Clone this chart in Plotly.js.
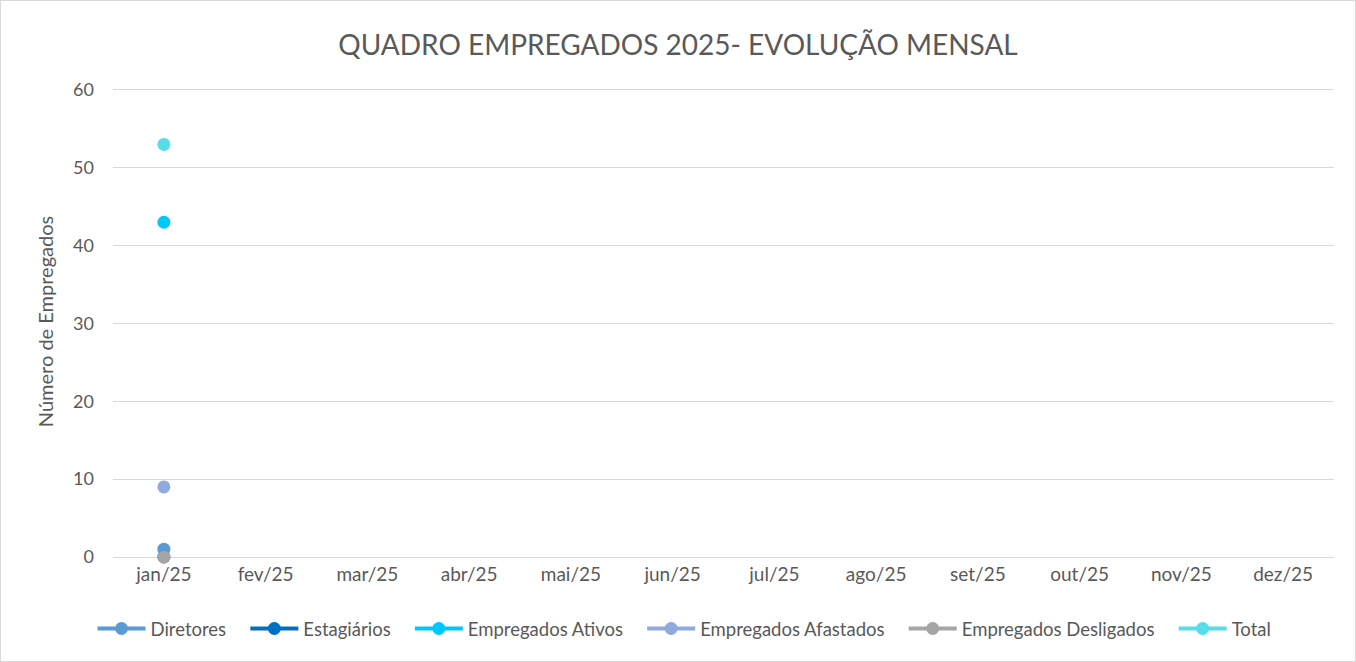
<!DOCTYPE html>
<html>
<head>
<meta charset="utf-8">
<script src="https://cdn.plot.ly/plotly-3.0.1.min.js"></script>
<style>
html,body{margin:0;padding:0;background:#fff;}
#chart{width:1356px;height:662px;box-sizing:border-box;border:1px solid #d9d9d9;}
</style>
</head>
<body>
<div id="chart"></div>
<script>
const months = ["jan/25","fev/25","mar/25","abr/25","mai/25","jun/25","jul/25","ago/25","set/25","out/25","nov/25","dez/25"];
const diretores = [1,null,null,null,null,null,null,null,null,null,null,null];
const estagiarios = [0,null,null,null,null,null,null,null,null,null,null,null];
const empregadosAtivos = [43,null,null,null,null,null,null,null,null,null,null,null];
const empregadosAfastados = [9,null,null,null,null,null,null,null,null,null,null,null];
const empregadosDesligados = [0,null,null,null,null,null,null,null,null,null,null,null];
const total = [53,null,null,null,null,null,null,null,null,null,null,null];
const yTicks = [0,10,20,30,40,50,60];

const seriesNames = ["Diretores","Estagiários","Empregados Ativos","Empregados Afastados","Empregados Desligados","Total"];
const seriesValues = [diretores, estagiarios, empregadosAtivos, empregadosAfastados, empregadosDesligados, total];
const seriesColors = ["#5B9BD5","#0070C0","#00C8FF","#8FAADC","#A5A5A5","#55DDEB"];

const FONT = "Lato, 'Open Sans', sans-serif";
const PAD = "\u00A0\u00A0\u00A0";
const data = seriesNames.map((n,i)=>({
  type:'scatter', mode:'lines+markers', name:n + (i < seriesNames.length-1 ? PAD : ''), x:months, y:seriesValues[i],
  line:{color:seriesColors[i], width:4}, marker:{color:seriesColors[i], size:13},
  cliponaxis:false,
  hovertemplate: n + ': %{y}<extra></extra>'
}));

const layout = {
  width:1354, height:660,
  margin:{l:112, r:21, t:85, b:104, autoexpand:false},
  paper_bgcolor:'#fff', plot_bgcolor:'#fff',
  font:{family:FONT, color:'#595959', size:18},
  title:{text:'QUADRO EMPREGADOS 2025- EVOLUÇÃO MENSAL', font:{size:28, color:'#595959', family:FONT}, x:0.5, xanchor:'center', y:1-44/660, yanchor:'middle', yref:'container'},
  xaxis:{type:'category', range:[-0.5,11.5], showgrid:false, showline:false, zeroline:false, ticks:'', ticklabelstandoff:4, tickfont:{size:19, color:'#595959'}, fixedrange:true},
  yaxis:{range:[0,60.5], tickvals:yTicks, showgrid:true, gridcolor:'#D9D9D9', gridwidth:1, zeroline:true, zerolinecolor:'#D9D9D9', zerolinewidth:1, showline:false, ticks:'', ticklabelstandoff:18, tickfont:{size:18, color:'#595959'},
    title:{text:'Número de Empregados', font:{size:20, color:'#595959'}, standoff:14}},
  legend:{orientation:'h', x:(684-112)/1222, xanchor:'center', y:-(628-556)/471, yanchor:'middle', font:{size:18.5, color:'#595959'}, itemwidth:48, bgcolor:'rgba(0,0,0,0)'},
  showlegend:true
};
Plotly.newPlot('chart', data, layout, {displayModeBar:false, responsive:false});
</script>
</body>
</html>
